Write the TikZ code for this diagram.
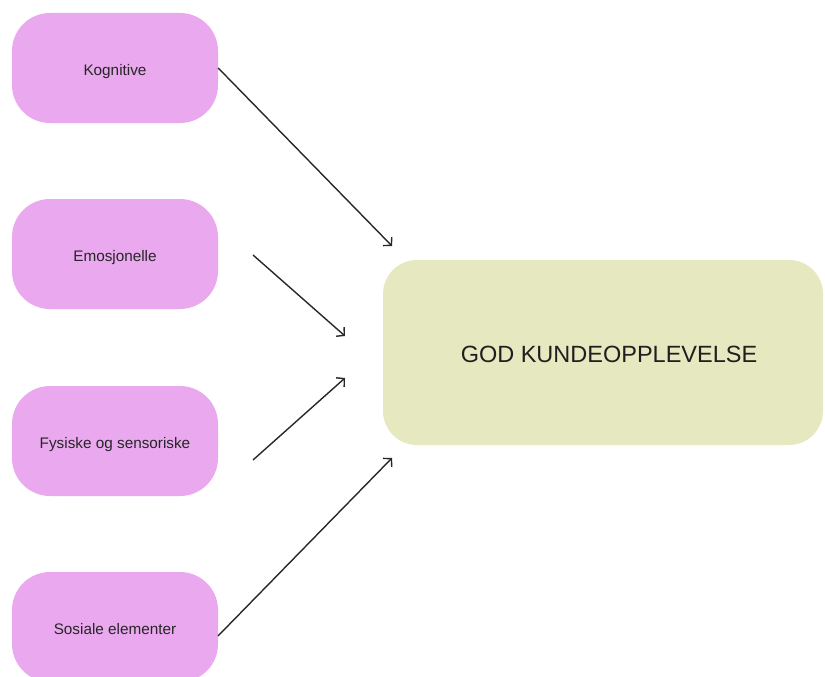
\documentclass[tikz,border=0pt]{standalone}
\usepackage{fontspec}
\setmainfont{Liberation Sans}
\usetikzlibrary{arrows.meta}
\definecolor{FactorCol}{RGB}{234,168,239}
\definecolor{GoalCol}{RGB}{230,232,191}
\definecolor{LineCol}{RGB}{40,40,40}
\newcommand{\lowtext}[1]{\raisebox{-7pt}[0pt][0pt]{#1}}
\tikzstyle{factor} = [rectangle, rounded corners=38pt, minimum width=206pt, minimum height=110pt, inner sep=0pt, fill=FactorCol, text=black!85, font=\fontsize{15.3}{18}\selectfont]
\tikzstyle{goal} = [rectangle, rounded corners=34pt, minimum width=440pt, minimum height=185pt, inner sep=0pt, fill=GoalCol, text=black!88, font=\fontsize{23.5}{28}\selectfont]
\tikzstyle{link} = [-{Straight Barb[length=5.5pt,width=12pt]}, LineCol, line width=1.4pt]
\begin{document}
\begin{tikzpicture}[x=1pt,y=-1pt]
                    \useasboundingbox (0,0) rectangle (825,677);

                    \node[factor] (kog) at (115,68) {\lowtext{Kognitive}};
                    \node[factor] (emo) at (115,254) {\lowtext{Emosjonelle}};
                    \node[factor] (fys) at (115,441) {\lowtext{Fysiske og sensoriske}};
                    \node[factor] (sos) at (115,627) {\lowtext{Sosiale elementer}};

                    \node[goal] (god) at (603,352.5) {};
                    \node[goal, fill=none, minimum width=0pt, minimum height=0pt] (godtxt) at (609,354.5) {GOD KUNDEOPPLEVELSE};

                    % free ends of the arrows
                    \coordinate (emoA) at (253,255);
                    \coordinate (fysA) at (253,460);
                    \coordinate (sosA) at (218,636);
                    \coordinate (godA) at (392,246);
                    \coordinate (godB) at (345,336);
                    \coordinate (godC) at (345,378);
                    \coordinate (godD) at (392,458);

                    \draw [link] (kog.east) -- (godA);
                    \draw [link] (emoA) -- (godB);
                    \draw [link] (fysA) -- (godC);
                    \draw [link] (sosA) -- (godD);

\end{tikzpicture}
\end{document}
